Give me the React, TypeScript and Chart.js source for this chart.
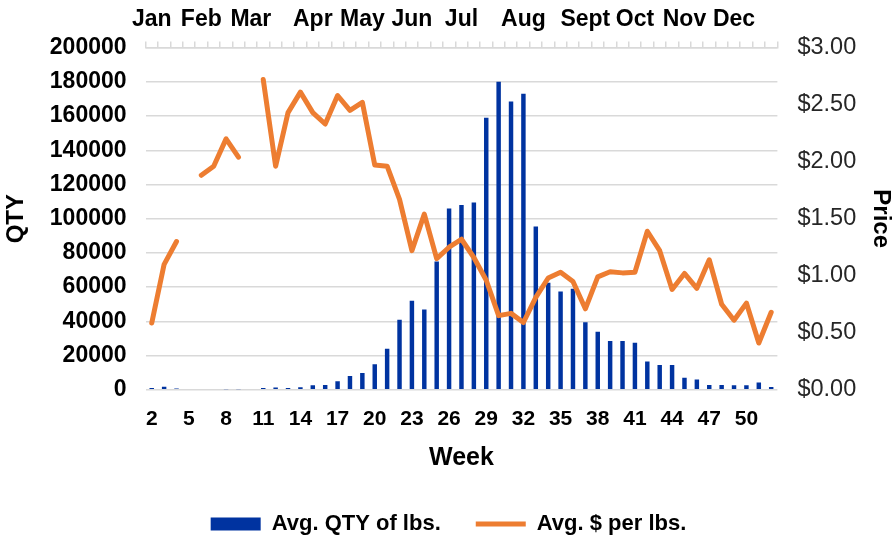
import React, { useEffect, useRef } from 'react';
import { Chart, registerables } from 'chart.js';

Chart.register(...registerables);

const weeks: string[] = [
  '2', '3', '4', '5', '6', '7', '8', '9', '10', '11', '12', '13', '14', '15', '16', '17', '18',
  '19', '20', '21', '22', '23', '24', '25', '26', '27', '28', '29', '30', '31', '32', '33', '34',
  '35', '36', '37', '38', '39', '40', '41', '42', '43', '44', '45', '46', '47', '48', '49', '50',
  '51', '52',
];

const qty: (number | null)[] = [
  1000, 1800, 800, null, 400, 400, 300, 300, null, 1000, 1300, 1000, 1500, 2700, 2800, 5000, 8000,
  9800, 15000, 24000, 41000, 52000, 47000, 75000, 106000, 108000, 109500, 159000, 180000, 168500, 173000, 95500, 62500,
  57500, 59000, 39500, 34000, 28500, 28500, 27500, 16500, 14500, 14500, 7000, 6000, 2800, 2800, 2600, 2600,
  4300, 1600,
];

const price: (number | null)[] = [
  0.585, 1.1, 1.3, null, 1.88, 1.96, 2.2, 2.04, null, 2.72, 1.96, 2.43, 2.61, 2.43, 2.33, 2.58, 2.45,
  2.52, 1.97, 1.96, 1.67, 1.22, 1.54, 1.15, 1.25, 1.32, 1.16, 0.96, 0.65, 0.67, 0.59, 0.81, 0.98,
  1.03, 0.95, 0.71, 0.99, 1.035, 1.025, 1.03, 1.39, 1.22, 0.88, 1.02, 0.89, 1.14, 0.75, 0.61, 0.76,
  0.41, 0.68,
];

const monthWeeks: string[] = ['2', '6', '10', '15', '19', '23', '27', '32', '37', '41', '45', '49'];
const monthNames: string[] = ['Jan', 'Feb', 'Mar', 'Apr', 'May', 'Jun', 'Jul', 'Aug', 'Sept', 'Oct', 'Nov', 'Dec'];

const weekTickEvery = 3;
const qtyMax = 200000;
const qtyStep = 20000;
const priceMax = 3;
const priceStep = 0.5;

const BLUE = '#0033a0';
const ORANGE = '#ED7D31';
const GRID = '#d9d9d9';
const FONT = "'Liberation Sans', Arial, sans-serif";

export default function App() {
  const ref = useRef<HTMLCanvasElement | null>(null);

  useEffect(() => {
    const canvas = ref.current;
    if (!canvas) return;
    const topLabels = weeks.map((w) => {
      const i = monthWeeks.indexOf(w);
      return i >= 0 ? monthNames[i] : '';
    });
    const chart = new Chart(canvas, {
      type: 'bar',
      data: {
        labels: weeks,
        datasets: [
          {
            type: 'bar',
            label: 'Avg. QTY of lbs.',
            data: qty,
            backgroundColor: BLUE,
            borderWidth: 0,
            yAxisID: 'y',
            xAxisID: 'x',
            order: 1,
            categoryPercentage: 1,
            barPercentage: 0.36,
            pointStyle: 'rect',
          } as any,
          {
            type: 'line',
            label: 'Avg. $ per lbs.',
            data: price,
            borderColor: ORANGE,
            backgroundColor: ORANGE,
            borderWidth: 5,
            borderCapStyle: 'round',
            borderJoinStyle: 'round',
            pointRadius: 0,
            pointHoverRadius: 0,
            tension: 0,
            spanGaps: false,
            yAxisID: 'y1',
            xAxisID: 'x',
            order: 0,
            pointStyle: 'line',
          } as any,
        ],
      },
      options: {
        animation: false,
        responsive: false,
        maintainAspectRatio: false,
        layout: { padding: { left: 2, right: 1, top: -2, bottom: -4 } },
        plugins: {
          tooltip: { enabled: false },
          legend: {
            position: 'bottom',
            labels: {
              usePointStyle: true,
              pointStyleWidth: 50,
              boxWidth: 50,
              boxHeight: 13,
              padding: 35,
              color: '#000',
              font: { family: FONT, size: 22, weight: 'bold' },
              sort: (a: any, b: any) => a.datasetIndex - b.datasetIndex,
            },
          },
        },
        scales: {
          x: {
            type: 'category',
            position: 'bottom',
            offset: true,
            grid: { display: false },
            border: { display: false },
            ticks: {
              autoSkip: false,
              maxRotation: 0,
              minRotation: 0,
              color: '#000',
              padding: 9,
              font: { family: FONT, size: 21, weight: 'bold' },
              callback: (_v: any, i: number) => (i % weekTickEvery === 0 ? weeks[i] : ''),
            },
            title: {
              display: true,
              text: 'Week',
              color: '#000',
              font: { family: FONT, size: 25, weight: 'bold' },
              padding: { top: 2, bottom: 5 },
            },
          },
          xTop: {
            type: 'category',
            position: 'top',
            labels: topLabels,
            offset: true,
            grid: {
              display: true,
              offset: true,
              drawOnChartArea: false,
              drawTicks: true,
              tickLength: 6,
              color: GRID,
              lineWidth: 1.5,
            },
            border: { display: true, color: GRID, width: 1.5 },
            ticks: {
              autoSkip: false,
              maxRotation: 0,
              minRotation: 0,
              color: '#000',
              padding: 8,
              font: { family: FONT, size: 23, weight: 'bold' },
            },
          },
          y: {
            type: 'linear',
            position: 'left',
            min: 0,
            max: qtyMax,
            grid: { color: GRID, lineWidth: 1.5, drawTicks: false },
            border: { display: false },
            ticks: {
              stepSize: qtyStep,
              color: '#000',
              padding: 19,
              font: { family: FONT, size: 23, weight: 'bold' },
              callback: (v: any) => String(v),
            },
            title: {
              display: true,
              text: 'QTY',
              color: '#000',
              font: { family: FONT, size: 24, weight: 'bold' },
              padding: { top: 0, bottom: 0 },
            },
          },
          y1: {
            type: 'linear',
            position: 'right',
            min: 0,
            max: priceMax,
            grid: { drawOnChartArea: false, drawTicks: false },
            border: { display: false },
            ticks: {
              stepSize: priceStep,
              color: '#262626',
              padding: 20,
              font: { family: FONT, size: 23.5, weight: 'normal' },
              callback: (v: any) => '$' + Number(v).toFixed(2),
            },
            title: {
              display: true,
              text: 'Price',
              color: '#000',
              font: { family: FONT, size: 24, weight: 'bold' },
              padding: { top: 0, bottom: -10 },
            },
          },
        },
      },
    } as any);
    return () => chart.destroy();
  }, []);

  return (
    <div style={{ position: 'fixed', left: 0, top: 0, width: 896, height: 541, background: '#fff' }}>
      <canvas ref={ref} width={896} height={541} style={{ width: 896, height: 541 }} />
    </div>
  );
}
